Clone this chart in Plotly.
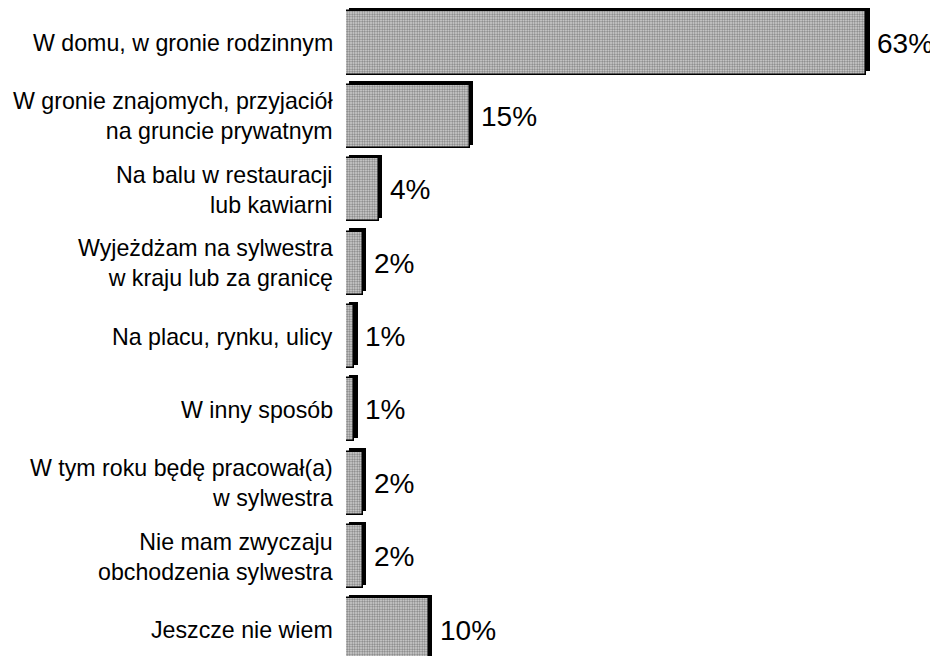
import plotly.graph_objects as go

categories = [
    "W domu, w gronie rodzinnym",
    "W gronie znajomych, przyjaciół\nna gruncie prywatnym",
    "Na balu w restauracji\nlub kawiarni",
    "Wyjeżdżam na sylwestra\nw kraju lub za granicę",
    "Na placu, rynku, ulicy",
    "W inny sposób",
    "W tym roku będę pracował(a)\nw sylwestra",
    "Nie mam zwyczaju\nobchodzenia sylwestra",
    "Jeszcze nie wiem",
]
values = [63, 15, 4, 2, 1, 1, 2, 2, 10]
value_labels = [f"{v}%" for v in values]

W, H = 938, 656
page_off = 8  # default body margin of the html page
left = 346 - page_off
px_per_unit = 8.26
x_max = (W - left) / px_per_unit
cat_px = 73.375
first_center = 43 - page_off
y_top = -first_center / cat_px
y_bot = (H - first_center) / cat_px

bw = 0.86
dx = 3.4 / px_per_unit
dy = 3.4 / cat_px

idx = list(range(len(categories)))
font = "Liberation Sans, Arial, sans-serif"

fig = go.Figure()
# shadow (3D depth) bars
fig.add_trace(go.Bar(
    y=idx, x=values, base=[dx] * len(values), orientation="h",
    width=bw, offset=-bw / 2 - dy,
    marker=dict(color="black", line=dict(width=0)),
    hoverinfo="skip", showlegend=False,
))
# main bars
fig.add_trace(go.Bar(
    y=idx, x=values, orientation="h",
    width=bw, offset=-bw / 2,
    marker=dict(
        color="white",
        line=dict(color="black", width=1.5),
        pattern=dict(shape=".", fgcolor="#202020", bgcolor="#dcdcdc",
                     size=2.5, solidity=0.5),
    ),
    showlegend=False,
))

annotations = []
for i, (lab, v, vl) in enumerate(zip(categories, values, value_labels)):
    annotations.append(dict(
        x=0, xref="paper", y=i, yref="y", text=lab.replace("\n", "<br>"),
        showarrow=False, align="right",
        xanchor="right", yanchor="middle", xshift=-11,
        font=dict(family=font, size=23.2, color="black"),
    ))
    annotations.append(dict(
        x=v, xref="x", y=i, yref="y", text=vl, showarrow=False,
        xanchor="left", yanchor="middle", xshift=9,
        font=dict(family=font, size=28, color="black"),
    ))

fig.update_layout(
    width=W, height=H,
    margin=dict(l=left, r=0, t=0, b=0),
    paper_bgcolor="white", plot_bgcolor="white",
    barmode="overlay", bargap=0,
    annotations=annotations,
    xaxis=dict(range=[0, x_max], visible=False, fixedrange=True),
    yaxis=dict(range=[y_bot, y_top], showticklabels=False, showgrid=False,
               zeroline=False, showline=False, ticks="", fixedrange=True),
)

fig.write_html("out.html")
